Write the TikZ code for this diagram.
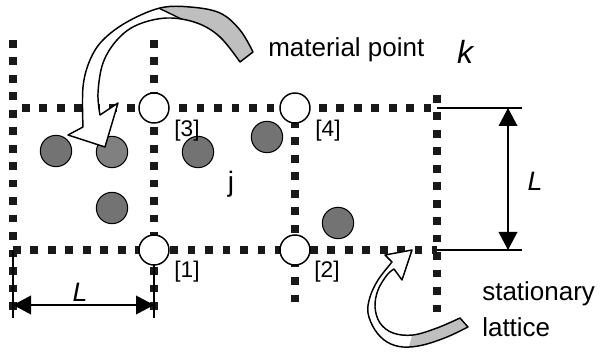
\documentclass[tikz,border=0pt]{standalone}
\usepackage{fontspec}
\setmainfont{Liberation Sans}
\usetikzlibrary{arrows.meta}
\begin{document}
\begin{tikzpicture}[x=0.75pt,y=-0.75pt,
 latline/.style={line width=6pt, dash pattern=on 5.8pt off 7.3pt, black!90},
 site/.style={circle, draw, fill=white, line width=1.1pt, minimum size=22.5pt, inner sep=0pt},
 ball/.style={circle, draw, fill=black!55, line width=0.8pt, minimum size=23.5pt, inner sep=0pt},
 dimline/.style={line width=1.1pt},
 dimarrow/.style={line width=1.1pt, {Triangle[length=13.5pt,width=14pt]}-{Triangle[length=13.5pt,width=14pt]}},
 lbl/.style={font=\fontsize{19.5}{22}\selectfont, inner sep=0pt},
 num/.style={font=\fontsize{17}{19}\selectfont, inner sep=0pt},
 ital/.style={font=\fontsize{20}{22}\selectfont\itshape, inner sep=0pt},
 bandline/.style={draw, line width=1.1pt, line join=round},
 bandback/.style={fill=black!25}
]
\useasboundingbox (0,0) rectangle (602,352);

% lattice coordinates
\coordinate (v1t) at (13,40);  \coordinate (v1b) at (13,312);
\coordinate (v2t) at (154,40); \coordinate (v2b) at (154,312);
\coordinate (v3t) at (295,120); \coordinate (v3b) at (295,312);
\coordinate (v4t) at (437,95); \coordinate (v4b) at (437,312);
\coordinate (h1l) at (22,108); \coordinate (h1r) at (437,108);
\coordinate (h2l) at (13,250); \coordinate (h2r) at (437,250);

\draw[latline] (v1t) -- (v1b);
\draw[latline] (v2t) -- (v2b);
\draw[latline] (v3t) -- (v3b);
\draw[latline] (v4t) -- (v4b);
\draw[latline] (h1l) -- (h1r);
\draw[latline] (h2l) -- (h2r);

% dimensions right
\coordinate (r1a) at (437,108); \coordinate (r1b) at (522,108);
\coordinate (r2a) at (437,250); \coordinate (r2b) at (522,250);
\coordinate (ra) at (508,108);  \coordinate (rb) at (508,250);
\draw[dimline] (r1a) -- (r1b);
\draw[dimline] (r2a) -- (r2b);
\draw[dimarrow] (ra) -- (rb);
\node[ital] (Lr) at (535,181) {L};

% dimensions bottom
\coordinate (b1a) at (13,250);  \coordinate (b1b) at (13,318);
\coordinate (b2a) at (154,262); \coordinate (b2b) at (154,318);
\coordinate (ba) at (13,305);   \coordinate (bb) at (154,305);
\draw[dimline] (b1a) -- (b1b);
\draw[dimline] (b2a) -- (b2b);
\draw[dimarrow] (ba) -- (bb);
\node[ital] (Lb) at (80,292) {L};

% material points
\node[ball] (p1) at (56,151) {};
\node[ball, fill=black!50] (p2) at (112,152) {};
\node[ball] (p3) at (198,152) {};
\node[ball] (p4) at (267,137) {};
\node[ball] (p5) at (112,208) {};
\node[ball] (p6) at (338,223) {};

% lattice sites
\node[site] (s3) at (154,108) {};
\node[site] (s4) at (295,108) {};
\node[site] (s1) at (154,250) {};
\node[site] (s2) at (295,250) {};

\node[num] (t3) at (187,131) {[3]};
\node[num] (t4) at (328,131) {[4]};
\node[num] (t1) at (187,272) {[1]};
\node[num] (t2) at (327,272) {[2]};
\node[font=\fontsize{21}{23}\selectfont, inner sep=0pt] (tj) at (231,184) {j};

% labels
\node[lbl, anchor=west] (mp) at (268,50) {material point};
\node[font=\fontsize{24}{26}\selectfont\itshape, inner sep=0pt] (tk) at (465,52) {k};
\node[lbl, anchor=west] (st) at (482,294) {stationary};
\node[lbl, anchor=west] (la) at (482,327) {lattice};

% top curved arrow
\def\toparrow{plot[smooth, tension=0.6] coordinates {(83,127) (83,87) (90,60) (103,40) (127,22) (160,8) (190,7) (220,13) (240,30) (253,52)}
  -- (240,62)
  -- plot[smooth, tension=0.6] coordinates {(240,62) (220,37) (197,23) (167,18) (137,25) (117,40) (103,63) (98,93) (100,115)}
  -- (118,103) -- (105,147) -- (68,135) -- cycle}
\fill[white] \toparrow;
\begin{scope}
  \clip \toparrow;
  \fill[bandback] (142,0) -- (300,0) -- (300,100) -- (200,100) -- (200,28) -- cycle;
  \draw[line width=1pt] (142,0) -- (200,28);
\end{scope}
\path[bandline] \toparrow;

% bottom curved arrow
\def\botarrow{plot[smooth, tension=0.6] coordinates {(392,262) (378,280) (370,297) (368,313) (375,330) (387,342) (403,347) (423,345) (447,337) (468,327)}
  -- (460,318)
  -- plot[smooth, tension=0.6] coordinates {(460,318) (437,328) (413,335) (393,333) (380,323) (375,307) (378,290) (387,275) (394,269)}
  -- (402,280) -- (412,250) -- (385,255) -- cycle}
\fill[white] \botarrow;
\begin{scope}
  \clip \botarrow;
  \fill[bandback] (405,360) -- (416,322) -- (500,300) -- (500,360) -- cycle;
\end{scope}
\path[bandline] \botarrow;
\end{tikzpicture}
\end{document}
